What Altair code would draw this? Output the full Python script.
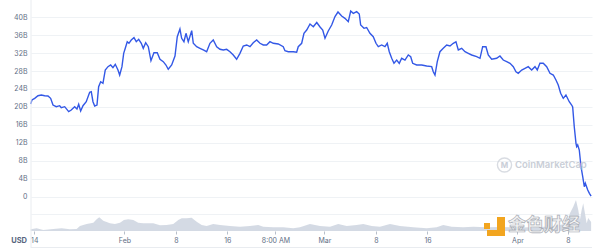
import altair as alt
import pandas as pd

# ---- data ----
# x in days since Jan 14 (chart's own spacing), market cap in billions USD
days = [-0.36, -0.16, 0.27, 0.79, 1.31, 1.84, 2.36, 2.78, 3.15, 3.67, 4.20, 4.45, 4.99, 5.62, 6.02,
        6.56, 6.92, 7.19, 7.50, 7.87, 8.38, 8.92, 9.17, 9.44, 9.71, 10.07, 10.33, 10.65, 11.01, 11.37,
        11.80, 12.22, 12.58, 12.95, 13.37, 13.64, 14.00, 14.27, 14.52, 14.83, 15.10, 15.46, 15.89, 16.25,
        16.63, 17.04, 17.35, 17.73, 18.14, 18.56, 19.03, 19.55, 19.98, 20.50, 20.92, 21.28, 21.82, 22.34,
        22.70, 23.12, 23.39, 23.75, 24.07, 24.43, 24.97, 25.22, 25.75, 26.27, 26.79, 27.32, 27.84, 28.36,
        28.90, 29.42, 29.94, 30.47, 30.99, 31.51, 32.04, 32.56, 33.08, 33.62, 34.14, 34.65, 35.19, 35.71,
        36.23, 36.76, 37.28, 37.80, 38.59, 39.37, 39.64, 40.16, 40.95, 41.48, 41.73, 42.27, 42.63, 43.06,
        43.58, 44.10, 44.64, 45.16, 45.58, 45.94, 46.45, 46.99, 47.51, 47.98, 48.56, 49.08, 49.60, 49.98,
        50.39, 50.92, 51.33, 51.55, 52.07, 52.49, 53.01, 53.53, 53.96, 54.32, 54.85, 55.37, 55.73, 56.05,
        56.43, 56.79, 57.22, 57.62, 58.00, 58.52, 59.04, 59.42, 59.73, 60.36, 61.15, 61.93, 62.72, 62.97,
        63.24, 63.60, 64.02, 64.54, 65.08, 65.60, 66.12, 66.54, 66.91, 67.44, 67.96, 68.48, 69.01, 69.80,
        70.32, 70.74, 71.26, 71.62, 72.16, 72.94, 73.46, 73.98, 74.52, 75.04, 75.56, 75.98, 76.34, 76.88,
        77.40, 77.91, 78.45, 78.97, 79.33, 79.75, 80.27, 80.81, 81.33, 81.85, 82.27, 82.63, 83.01, 83.42,
        83.84, 84.36, 84.74, 84.90, 85.15, 85.42, 85.53, 85.69, 85.94, 86.21, 86.48, 86.73, 86.89, 87.27,
        87.53, 87.80]
market_cap_b = [20.67, 21.56, 21.93, 22.51, 22.67, 22.51, 22.44, 21.93, 20.44, 20.07, 20.29, 19.84, 20.07,
                18.96, 19.33, 20.07, 19.56, 20.60, 19.11, 20.29, 21.18, 23.27, 23.40, 21.18, 20.22, 20.44,
                24.51, 25.62, 25.27, 28.22, 28.96, 29.33, 28.73, 29.49, 28.22, 27.11, 28.96, 31.93, 33.04,
                34.51, 34.16, 34.89, 35.40, 34.51, 35.04, 34.16, 33.04, 34.29, 33.40, 30.29, 32.07, 32.07,
                30.60, 30.07, 29.33, 28.38, 29.33, 31.33, 35.62, 37.33, 35.27, 34.51, 36.38, 34.51, 36.96,
                34.16, 33.40, 33.04, 32.67, 32.29, 34.16, 34.89, 33.40, 32.82, 32.67, 32.82, 32.29, 31.56,
                30.60, 31.93, 33.56, 33.78, 33.40, 34.29, 34.89, 34.16, 33.78, 33.78, 34.51, 34.16, 34.00,
                33.40, 32.51, 32.29, 32.29, 32.16, 33.40, 34.16, 36.38, 37.11, 38.44, 37.84, 38.78, 37.78,
                37.11, 35.27, 36.89, 38.22, 40.11, 41.11, 40.22, 39.71, 38.96, 41.33, 40.82, 41.18, 40.67,
                38.22, 37.49, 37.67, 36.38, 35.62, 34.16, 33.40, 33.78, 33.40, 34.16, 32.29, 30.82, 29.71,
                30.44, 29.71, 30.82, 30.44, 31.56, 31.18, 29.71, 29.33, 29.33, 29.11, 28.96, 27.84, 27.11,
                30.07, 32.29, 33.04, 33.78, 33.56, 34.16, 34.51, 32.67, 33.04, 32.29, 31.93, 31.56, 31.18,
                30.82, 33.40, 33.40, 31.56, 30.60, 30.82, 31.33, 30.44, 30.07, 29.71, 28.96, 27.84, 27.49,
                28.22, 28.60, 28.96, 28.22, 28.96, 28.22, 29.71, 29.71, 28.96, 27.49, 27.11, 26.00, 24.89,
                23.04, 21.93, 22.67, 21.18, 20.44, 20.00, 15.62, 11.93, 11.18, 11.56, 10.44, 6.73, 4.51,
                2.29, 3.04, 1.56, 0.82, 0.22]

# volume (relative units, billions USD scale)
vol_days = [-0.36, 0.58, 1.62, 3.19, 4.51, 5.82, 6.87, 7.39, 8.45, 9.49, 10.02, 10.43, 11.06, 12.11, 12.90,
            13.69, 14.31, 14.99, 15.78, 16.56, 17.35, 18.92, 19.98, 21.03, 22.07, 22.86, 23.39, 24.18,
            24.96, 25.75, 26.54, 27.32, 28.36, 29.42, 30.99, 32.56, 34.13, 35.44, 36.23, 37.80, 39.37,
            40.95, 42.00, 43.57, 45.15, 46.72, 48.02, 49.35, 50.92, 51.96, 53.28, 54.58, 56.16, 57.73,
            59.82, 61.93, 63.50, 64.54, 65.86, 67.69, 69.26, 71.37, 73.46, 76.61, 79.75, 82.27, 83.95,
            84.47, 84.99, 85.42, 85.78, 86.04, 86.31, 86.56, 86.83, 87.10, 87.35, 87.80]
volume_b = [0.50, 0.79, 0.29, 0.59, 0.79, 0.50, 0.59, 1.47, 2.06, 2.44, 3.44, 4.03, 3.03, 2.26, 2.06,
            2.44, 3.24, 3.44, 3.24, 2.44, 2.26, 2.26, 1.68, 1.76, 2.06, 3.24, 3.74, 3.74,
            3.91, 2.74, 1.76, 1.47, 2.06, 1.76, 1.47, 1.26, 1.47, 1.76, 1.26, 1.09, 1.09,
            0.79, 1.09, 2.06, 1.47, 1.26, 2.06, 1.47, 1.76, 2.06, 1.47, 1.26, 2.06, 1.47,
            1.09, 0.79, 1.09, 1.76, 1.26, 1.09, 1.26, 1.09, 1.18, 1.03, 1.18, 1.47, 2.26,
            5.21, 7.15, 9.12, 6.18, 3.24, 6.18, 8.15, 5.21, 2.26, 3.82, 2.65]

tick_days = [0.2, 14.39, 22.49, 30.56, 38.15, 45.85, 53.95, 62.06, 76.21, 84.16]
tick_labels = ["14", "Feb", "8", "16", "8:00 AM", "Mar", "8", "16", "Apr", "8"]
y_ticks = [0, 4, 8, 12, 16, 20, 24, 28, 32, 36, 40]

cap_df = pd.DataFrame({"day": days, "cap": market_cap_b})
vol_df = pd.DataFrame({"day": vol_days, "vol": volume_b})
dummy = pd.DataFrame({"a": [0]})

# label expression for x ticks
parts = []
for i in range(len(tick_days) - 1):
    mid = (tick_days[i] + tick_days[i + 1]) / 2
    parts.append(f"datum.value < {mid:.3f} ? '{tick_labels[i]}' : ")
x_label_expr = "".join(parts) + f"'{tick_labels[-1]}'"

FONT = "Inter"
LABEL_COLOR = "#616e85"
GRID = "#eff2f5"

x_scale = alt.Scale(domain=[-0.31, 87.94], nice=False, zero=False)
x_axis = alt.Axis(values=tick_days, labelExpr=x_label_expr, title=None, domain=False,
                  ticks=True, tickSize=3, tickColor="#b8bfca", tickWidth=1,
                  labelFontSize=7, labelColor=LABEL_COLOR, labelFont=FONT, labelPadding=2,
                  grid=False, labelFlush=False)

vol = alt.Chart(vol_df).mark_area(color="#d2d8e3", opacity=0.95, interpolate="linear").encode(
    x=alt.X("day:Q", scale=x_scale, axis=x_axis),
    y=alt.Y("vol:Q", scale=alt.Scale(domain=[0, 67.94], nice=False, zero=True),
            axis=alt.Axis(orient="right", values=[5], labels=False, ticks=False, domain=False,
                          grid=True, gridColor=GRID, gridWidth=1, title=None)),
)

line = alt.Chart(cap_df).mark_line(color="#3358e6", strokeWidth=1.4, interpolate="linear").encode(
    x=alt.X("day:Q", scale=x_scale, axis=x_axis),
    y=alt.Y("cap:Q", scale=alt.Scale(domain=[-7.5556, 43.7778], nice=False, zero=False),
            axis=alt.Axis(values=y_ticks, labelExpr="datum.value == 0 ? '0' : datum.value + 'B'",
                          title=None, domain=False, ticks=False, grid=True, gridColor=GRID,
                          gridWidth=1, labelFontSize=7, labelColor=LABEL_COLOR, labelFont=FONT,
                          labelPadding=4)),
)

left_rule = alt.Chart(dummy).mark_rule(color="#e9ecf0", strokeWidth=1).encode(
    x=alt.value(0), y=alt.value(0), y2=alt.value(248))
bottom_rule = alt.Chart(dummy).mark_rule(color="#e9ecf0", strokeWidth=1).encode(
    x=alt.value(0), x2=alt.value(561), y=alt.value(247.5))

usd = alt.Chart(dummy).mark_text(text="USD", font=FONT, fontSize=7.5, fontWeight="bold",
                                 color="#58667e", align="right", baseline="middle").encode(
    x=alt.value(-4), y=alt.value(241))

cmc_logo = alt.Chart(dummy).mark_point(shape="circle", size=200, filled=False, color="#c9ced7",
                                       strokeWidth=1.4).encode(x=alt.value(473.5), y=alt.value(165))
cmc_m = alt.Chart(dummy).mark_text(text="M", font=FONT, fontSize=8, fontWeight="bold", color="#c9ced7",
                                   align="center", baseline="middle").encode(
    x=alt.value(473.5), y=alt.value(165.5))
cmc_text = alt.Chart(dummy).mark_text(text="CoinMarketCap", font=FONT, fontSize=9.5, fontWeight=600,
                                      color="#c9ced7", align="left", baseline="middle").encode(
    x=alt.value(484), y=alt.value(165))

logo_dot = alt.Chart(dummy).mark_rect(color="#f2a51f").encode(
    x=alt.value(453), x2=alt.value(459), y=alt.value(223), y2=alt.value(229))
logo_bar = alt.Chart(dummy).mark_rect(color="#f2a51f").encode(
    x=alt.value(466), x2=alt.value(474), y=alt.value(217), y2=alt.value(236))
logo_base = alt.Chart(dummy).mark_rect(color="#f2a51f").encode(
    x=alt.value(456), x2=alt.value(474), y=alt.value(230), y2=alt.value(236))
jinse = alt.Chart(dummy).mark_text(text="金色财经", font="Noto Sans CJK SC", fontSize=18,
                                   fontWeight="bold", fill="#f3f3f3", stroke="#a9adb5",
                                   strokeWidth=0.7, align="left", baseline="middle").encode(
    x=alt.value(477), y=alt.value(225.5))

chart = alt.layer(
    vol, line, left_rule, bottom_rule, usd, cmc_logo, cmc_m, cmc_text,
    logo_dot, logo_bar, logo_base, jinse
).resolve_scale(y="independent").properties(
    width=561, height=231,
    autosize=alt.AutoSizeParams(type="none"),
    padding={"left": 31, "top": 0, "right": 8, "bottom": 18},
    background="white",
).configure_view(stroke=None)

chart.save("out.html", embed_options={"renderer": "svg", "actions": False})
